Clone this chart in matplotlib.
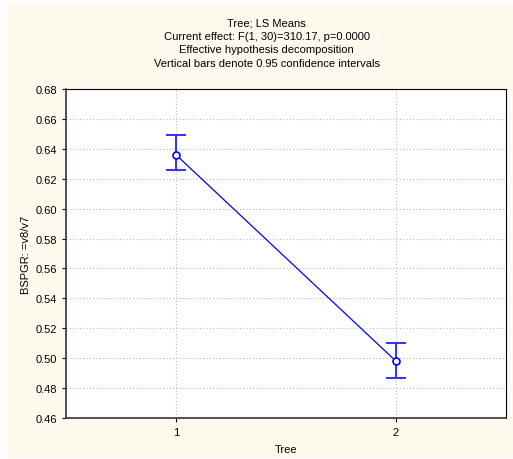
import matplotlib
matplotlib.use("Agg")
import matplotlib.pyplot as plt
from matplotlib.patches import Rectangle

plt.rcParams["font.family"] = ["Liberation Sans", "DejaVu Sans"]

# LS means per tree with 95% confidence limits
trees = [1, 2]
means = [0.636, 0.498]
ci_low = [0.626, 0.487]
ci_high = [0.649, 0.510]
yticks = [0.46, 0.48, 0.50, 0.52, 0.54, 0.56, 0.58, 0.60, 0.62, 0.64, 0.66, 0.68]

title_lines = [
    "Tree; LS Means",
    "Current effect: F(1, 30)=310.17, p=0.0000",
    "Effective hypothesis decomposition",
    "Vertical bars denote 0.95 confidence intervals",
]

fig = plt.figure(figsize=(5.13, 4.60), dpi=100, facecolor="white")
# cream panel behind the chart
fig.patches.append(Rectangle((7 / 513, 0.003), 1.0, 1 - 5 / 460 - 0.003,
                             transform=fig.transFigure, facecolor="#FFF9EE",
                             edgecolor="none", zorder=-10))

ax = fig.add_axes([66 / 513, 1 - 419 / 460, 440 / 513, 329 / 460])
ax.set_facecolor("white")

yerr = [[m - lo for m, lo in zip(means, ci_low)],
        [hi - m for m, hi in zip(means, ci_high)]]
ax.errorbar(trees, means, yerr=yerr, fmt="none", ecolor="#3030FF",
            elinewidth=1.4, capsize=7.5, capthick=1.4, zorder=3)
ax.plot(trees, means, color="#0000FF", linewidth=0.9, marker="o",
        markersize=5, markerfacecolor="white", markeredgecolor="#0000FF",
        markeredgewidth=1.2, zorder=4)

ax.set_xlim(0.5, 2.5)
ax.set_ylim(0.46, 0.68)
ax.set_xticks(trees)
ax.set_yticks(yticks)
ax.set_yticklabels([f"{v:.2f}" for v in yticks])
ax.tick_params(labelsize=8, length=3, width=0.8, colors="black")
ax.grid(True, color="#BEBEBE", linestyle=(0, (1, 2)), linewidth=0.8)
ax.set_axisbelow(True)

for side in ["top", "right"]:
    ax.spines[side].set_linewidth(0.8)
for side in ["left", "bottom"]:
    ax.spines[side].set_linewidth(1.2)
    ax.spines[side].set_color("#333333")

ax.set_xlabel("Tree", fontsize=8, labelpad=5)
ax.set_ylabel("BSPGR: =v8/v7", fontsize=8, labelpad=3)

for i, line in enumerate(title_lines):
    fig.text(0.5 + 10 / 513, 1 - (23.5 + i * 13.4) / 460, line, ha="center",
             va="center", fontsize=8)

plt.savefig("out.png", dpi=100)
plt.close()
